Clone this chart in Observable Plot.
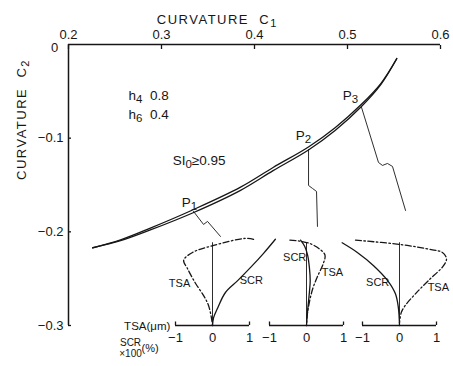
<!DOCTYPE html>
<html><head><meta charset="utf-8">
<script src="https://cdn.jsdelivr.net/npm/d3@7"></script>
<script src="https://cdn.jsdelivr.net/npm/@observablehq/plot@0.6"></script>
<style>
html,body{margin:0;padding:0;background:#fff;}
#chart{position:relative;width:453px;height:366px;overflow:hidden;}
#chart svg{position:absolute;overflow:visible;}
</style></head><body><div id="chart"></div>
<script>
// ---------- data ----------
const xTicks = [0.2, 0.3, 0.4, 0.5, 0.6];
const yTicks = [0, -0.1, -0.2, -0.3];
// main double curve (C1 vs C2)
const curveC1 = [0.226, 0.256, 0.288, 0.334, 0.385, 0.420, 0.458, 0.487, 0.515, 0.536, 0.553];
const curveUpper = [-0.217, -0.2085, -0.196, -0.1764, -0.1523, -0.1313, -0.1094, -0.0885, -0.0638, -0.0414, -0.015];
const curveLower = [-0.217, -0.2095, -0.198, -0.1796, -0.1557, -0.1347, -0.1126, -0.0915, -0.0662, -0.0426, -0.015];
// leader lines from P1..P3 to insets
const leader1C1 = [0.3344, 0.3452, 0.3495, 0.3634];
const leader1C2 = [-0.1782, -0.1921, -0.1889, -0.2049];
const leader2C1 = [0.4581, 0.4581, 0.4624, 0.4667, 0.4677];
const leader2C2 = [-0.1121, -0.1505, -0.1537, -0.1569, -0.1942];
const leader3C1 = [0.5151, 0.5333, 0.5376, 0.5430, 0.5484, 0.5624];
const leader3C2 = [-0.0672, -0.1259, -0.1291, -0.1270, -0.1302, -0.1772];
// annotations
const noteText = ["h_4  0.8", "h_6  0.4", "SI_0≥0.95"];
const noteC1 = [0.2645, 0.2645, 0.312];
const noteC2 = [-0.0544, -0.0747, -0.1238];
const pointText = ["P_1", "P_2", "P_3"];
const pointC1 = [0.330, 0.4527, 0.5032];
const pointC2 = [-0.1686, -0.0971, -0.0544];
// insets: u = TSA (µm) or SCR x100 (%), v = relative height above the baseline
const insetTicks = [-1, 0, 1];
const tsa1U = [1.11, 0.89, 0.03, -0.54, -0.78, -0.68, -0.46, -0.24, -0.11, -0.03, 0];
const tsa1V = [0.98, 0.99, 0.91, 0.83, 0.74, 0.65, 0.48, 0.34, 0.23, 0.09, 0];
const scr1U = [0, 0.03, 0.14, 0.35, 0.68, 1.03, 1.38, 1.70];
const scr1V = [0, 0.09, 0.20, 0.375, 0.51, 0.66, 0.82, 0.98];
const tsa2U = [-0.45, -0.2, 0.1, 0.35, 0.5, 0.45, 0.3, 0.17, 0.08, 0.02, 0];
const tsa2V = [0.97, 0.96, 0.93, 0.87, 0.8, 0.7, 0.56, 0.42, 0.27, 0.12, 0];
const scr2U = [-0.16, -0.05, 0.03, 0.08, 0.1, 0.07, 0.03, 0];
const scr2V = [0.97, 0.9, 0.8, 0.65, 0.51, 0.34, 0.17, 0];
const tsa3U = [-1.19, 0.03, 0.89, 1.16, 1.27, 1.19, 0.78, 0.43, 0.16, 0.05, 0];
const tsa3V = [0.97, 0.92, 0.86, 0.83, 0.76, 0.68, 0.51, 0.36, 0.23, 0.15, 0.03];
const scr3U = [-1.55, -1.14, -0.7, -0.32, -0.11, -0.03, 0];
const scr3V = [0.94, 0.83, 0.68, 0.51, 0.36, 0.2, 0];
const insetLabelText = ["TSA", "SCR"];
const label1U = [-0.89, 1.05], label1V = [0.48, 0.51];
const label2U = [0.7, -0.32], label2V = [0.6, 0.77];
const label3U = [1.05, -0.59], label3V = [0.43, 0.49];
const zeroLineTop = 0.94;

// ---------- styling ----------
const INK = "#161616";
const FONT = "'Liberation Sans', Arial, sans-serif";
const rows = (xs, ys, extra = {}) => xs.map((x, i) => ({x, y: ys[i], ...extra}));

const root = document.getElementById("chart");

const curveRows = curveC1.map((c, i) => ({c1: c, upper: curveUpper[i], lower: curveLower[i]}));
const leaders = [
  ...rows(leader1C1, leader1C2, {k: 1}),
  ...rows(leader2C1, leader2C2, {k: 2}),
  ...rows(leader3C1, leader3C2, {k: 3})
];
const notes = noteText.map((t, i) => ({t, x: noteC1[i], y: noteC2[i]}));
const points = pointText.map((t, i) => ({t, x: pointC1[i], y: pointC2[i]}));

const main = Plot.plot({
  width: 453, height: 366,
  marginLeft: 68, marginRight: 13, marginTop: 44, marginBottom: 41,
  x: {domain: [0.2, 0.6]},
  y: {domain: [-0.3, 0]},
  style: {fontFamily: FONT, fontSize: "13px", color: INK, background: "transparent", overflow: "visible"},
  marks: [
    Plot.axisX({anchor: "top", ticks: xTicks, tickSize: -4, tickPadding: 10, tickFormat: d3.format(".1f"), label: null, strokeWidth: 1.3}),
    Plot.axisY({anchor: "left", ticks: yTicks.slice(1), tickSize: -3, tickPadding: 8, tickFormat: d3.format(".1f"), label: null, strokeWidth: 1.3}),
    Plot.text([0], {x: 0.2, y: 0, text: d => String(d), dx: -14, dy: 3, fontSize: 13, fill: INK}),
    Plot.ruleY([0], {x1: 0.2, x2: 0.6, stroke: INK, strokeWidth: 1.5}),
    Plot.ruleX([0.2], {y1: -0.3, y2: 0, stroke: INK, strokeWidth: 1.5}),
    Plot.line(curveRows, {x: "c1", y: "upper", curve: "catmull-rom", stroke: INK, strokeWidth: 1.3}),
    Plot.line(curveRows, {x: "c1", y: "lower", curve: "catmull-rom", stroke: INK, strokeWidth: 1.3}),
    Plot.line(leaders, {x: "x", y: "y", z: "k", stroke: INK, strokeWidth: 0.9}),
    Plot.text(notes, {x: "x", y: "y", text: "t", textAnchor: "start", fontSize: 13.5, fill: INK}),
    Plot.text(points, {x: "x", y: "y", text: "t", fontSize: 13.5, fill: INK}),
    Plot.text(["CURVATURE  C_1"], {x: 0.36, frameAnchor: "top", dy: -30, fontSize: 13, fill: INK}),
    Plot.text(["CURVATURE  C_2"], {frameAnchor: "left", rotate: -90, dx: -47, dy: -5, fontSize: 13, fill: INK}),
    Plot.text(["TSA(μm)"], {x: 0.3095, y: -0.3005, textAnchor: "end", fontSize: 11.5, fill: INK}),
    Plot.text(["SCR"], {x: 0.2667, y: -0.319, fontSize: 10, fill: INK}),
    Plot.text(["×100"], {x: 0.2667, y: -0.330, fontSize: 10, fill: INK}),
    Plot.text(["(%)"], {x: 0.2785, y: -0.3244, textAnchor: "start", fontSize: 11, fill: INK})
  ]
});

// layout constants for insets (pixel positions of each inset's zero)
const insetSpecs = [
  {zeroX: 212, tsa: [tsa1U, tsa1V], scr: [scr1U, scr1V], lab: [label1U, label1V]},
  {zeroX: 306, tsa: [tsa2U, tsa2V], scr: [scr2U, scr2V], lab: [label2U, label2V]},
  {zeroX: 399, tsa: [tsa3U, tsa3V], scr: [scr3U, scr3V], lab: [label3U, label3V]}
];
const IW = 154, IH = 130, IML = 40, IMT = 17, IMB = 25, ITOP = 220;

root.appendChild(main);
for (const s of insetSpecs) {
  const labels = insetLabelText.map((t, i) => ({t, x: s.lab[0][i], y: s.lab[1][i]}));
  const p = Plot.plot({
    width: IW, height: IH,
    marginLeft: IML, marginRight: IML, marginTop: IMT, marginBottom: IMB,
    x: {domain: [-1, 1]},
    y: {domain: [0, 1], axis: null},
    style: {fontFamily: FONT, fontSize: "13px", color: INK, background: "transparent", overflow: "visible"},
    marks: [
      Plot.axisX({ticks: insetTicks, tickSize: 0, tickPadding: 7, tickFormat: d => d3.format("d")(d), label: null}),
      Plot.ruleY([0], {x1: -1, x2: 1, stroke: INK, strokeWidth: 1.3}),
      Plot.ruleX([-1, 1], {y1: 0, y2: 0.04, stroke: INK, strokeWidth: 1.3}),
      Plot.ruleX([0], {y1: 0, y2: zeroLineTop, stroke: INK, strokeWidth: 0.9}),
      Plot.line(rows(s.scr[0], s.scr[1]), {x: "x", y: "y", curve: "catmull-rom", stroke: INK, strokeWidth: 1.3}),
      Plot.line(rows(s.tsa[0], s.tsa[1]), {x: "x", y: "y", curve: "catmull-rom", stroke: INK, strokeWidth: 1.3, strokeDasharray: "6 2.5 1.5 2.5"}),
      Plot.text(labels, {x: "x", y: "y", text: "t", fontSize: 11, fill: INK})
    ]
  });
  p.style.left = (s.zeroX - IW / 2) + "px";
  p.style.top = ITOP + "px";
  root.appendChild(p);
}

// subscripts and spaced titles
root.querySelectorAll("text").forEach(t => {
  const s = t.textContent;
  if (s.includes("CURVATURE")) t.setAttribute("letter-spacing", "1.5px");
  if (!s.includes("_")) return;
  const parts = s.split(/_(.)/);
  t.textContent = "";
  parts.forEach((part, i) => {
    if (!part) return;
    const ts = document.createElementNS("http://www.w3.org/2000/svg", "tspan");
    ts.textContent = part;
    if (i % 2 === 1) {
      ts.setAttribute("font-size", "85%");
      ts.setAttribute("dy", "3");
    } else if (i > 0) {
      ts.setAttribute("dy", "-3");
    }
    t.appendChild(ts);
  });
});
</script></body></html>
